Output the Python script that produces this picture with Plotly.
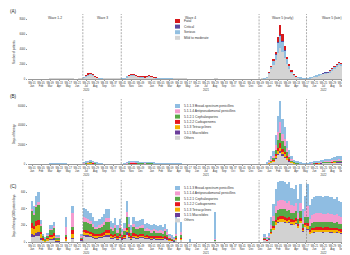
import plotly.graph_objects as go

# ---------------- categories (ISO weeks) ----------------
WEEKS = ([f"2020-W{w:02d}" for w in range(1, 54)] +
         [f"2021-W{w:02d}" for w in range(1, 53)] +
         [f"2022-W{w:02d}" for w in range(1, 36)])

TICK_WEEK_NUMS = {2020: [1, 5, 9, 13, 17, 21, 25, 29, 33, 37, 41, 45, 49],
                  2021: [1, 5, 9, 13, 17, 21, 25, 29, 33, 37, 41, 45, 49],
                  2022: [1, 5, 9, 13, 17, 21, 25, 29, 33]}
TICK_MONTHS = ["Jan", "Feb", "Mar", "Apr", "May", "Jun", "Jul", "Aug", "Sep", "Oct", "Nov", "Nov", "Dec",
               "Jan", "Feb", "Mar", "Apr", "May", "Jun", "Jul", "Aug", "Sep", "Oct", "Nov", "Dec", "Dec",
               "Jan", "Feb", "Mar", "Apr", "May", "Jun", "Jul", "Aug", "Sep"]
TICK_YEARS = ["", "", "", "", "", "", "2020", "", "", "", "", "", "",
              "", "", "", "", "", "", "2021", "", "", "", "", "", "",
              "", "", "", "", "", "", "2022", "", ""]

WAVE_LABELS = ["Wave 1-2", "Wave 3", "Wave 4", "Wave 5 (early)", "Wave 5 (late)"]
# first week of waves 3, 4, 5 (early), 5 (late)
WAVE_STARTS = ["2020-W24", "2020-W41", "2021-W49", "2022-W18"]

# ---------------- panel A: number of patients ----------------
A_MILD = ([0]*8 + [10, 20, 40, 60, 50, 30, 20, 10, 10, 10, 10, 0, 0, 10, 30]
          + [220, 360, 530, 590, 460, 280, 180, 75, 35, 20, 10, 10, 5, 5, 5, 10, 20, 40]
          + [75, 250, 440, 460, 470, 400, 320, 265, 240, 215, 280, 350, 300, 160, 120, 80, 50, 35]
          + [30, 25, 20, 20, 15, 15, 10, 10] + [5, 5] + [0]*12 + [5, 5] + [0]*19 + [5, 40]
          + [200, 700, 1300, 1900, 2500, 3500, 4200, 3600, 2800, 2000, 1350, 820, 460, 280, 200, 120, 80, 65]
          + [85, 125, 210, 295, 380, 465, 550, 680, 760, 800, 930, 1180, 1430, 1680, 1890, 1760, 1510, 1170])
A_SERIOUS = ([0]*23
             + [40, 70, 110, 120, 95, 55, 30, 12, 5] + [0]*8 + [5]
             + [12, 40, 70, 80, 85, 75, 60, 50, 45, 42, 55, 70, 60, 30, 22, 15, 8, 4] + [3, 3, 2, 2] + [0]*40 + [5]
             + [40, 170, 330, 550, 800, 1350, 1600, 1400, 1050, 700, 420, 230, 110, 55, 38, 22, 15, 12]
             + [12, 20, 32, 45, 58, 70, 82, 100, 115, 125, 140, 180, 220, 260, 290, 280, 240, 190])
A_CRITICAL = ([0]*23 + [0, 8, 12, 15, 10, 8, 4] + [0]*11
              + [0, 0, 8, 8, 10, 10, 8, 6, 6, 6, 6, 8, 8, 4] + [0]*49
              + [0, 10, 25, 40, 60, 80, 100, 90, 70, 50, 30, 15, 10, 5, 0, 0, 0, 0]
              + [0, 0, 0, 0, 0, 0, 0, 5, 8, 8, 10, 10, 12, 14, 15, 15, 12, 10])
A_FATAL = ([0]*23 + [0, 12, 18, 20, 15, 7, 3] + [0]*11
           + [0, 0, 12, 12, 15, 15, 12, 9, 9, 7, 9, 12, 12, 10, 5] + [0]*48
           + [0, 20, 45, 110, 240, 650, 1350, 910, 480, 250, 100, 35, 20, 15, 0, 0, 0, 0]
           + [0, 0, 0, 0, 0, 0, 0, 0, 0, 0, 15, 25, 35, 45, 60, 60, 50, 40])

# ---------------- panel B: days of therapy ----------------
B_BROAD = ([0]*8 + [100, 150, 250, 300, 250, 150, 100, 50] + [0]*7
           + [375, 625, 775, 825, 700, 500, 325, 175, 100] + [0]*9
           + [125, 375, 625, 725, 750, 650, 525, 450, 400, 375, 425, 500, 450, 275, 200, 125, 88, 62]
           + [100, 70, 60, 50, 40, 30, 25, 20] + [0]*37
           + [495, 1320, 2640, 4290, 9900, 16500, 21450, 15510, 12540, 7920, 4950, 2640, 1485, 990, 726, 495, 330, 264]
           + [336, 504, 756, 1008, 1260, 1470, 1680, 1890, 2100, 2184, 2310, 2730, 3024, 3276, 3444, 3360, 2730, 1680])
B_ANTIPSEUDO = ([0]*23
                + [150, 250, 310, 330, 280, 200, 130, 70, 40] + [0]*9
                + [50, 150, 250, 290, 300, 260, 210, 180, 160, 150, 170, 200, 180, 110, 80, 50, 35, 25] + [0]*45
                + [255, 680, 1360, 2210, 5100, 8500, 11050, 7990, 6460, 4080, 2550, 1360, 765, 510, 374, 255, 170, 136]
                + [96, 144, 216, 288, 360, 420, 480, 540, 600, 624, 660, 780, 864, 936, 984, 960, 780, 480])
B_CEPH = ([0]*8 + [60, 90, 150, 180, 150, 90, 60, 30] + [0]*7
          + [375, 625, 775, 825, 700, 500, 325, 175, 100] + [0]*9
          + [125, 375, 625, 725, 750, 650, 525, 450, 400, 375, 425, 500, 450, 275, 200, 125, 88, 62] + [0]*45
          + [240, 640, 1280, 2080, 4800, 8000, 10400, 7520, 6080, 3840, 2400, 1280, 720, 480, 352, 240, 160, 128]
          + [80, 120, 180, 240, 300, 350, 400, 450, 500, 520, 550, 650, 720, 780, 820, 800, 650, 400])
B_CARBA = ([0]*23
           + [90, 150, 186, 198, 168, 120, 78, 42, 24] + [0]*9
           + [30, 90, 150, 174, 180, 156, 126, 108, 96, 90, 102, 120, 108, 66, 48, 30, 21, 15] + [0]*45
           + [120, 320, 640, 1040, 2400, 4000, 5200, 3760, 3040, 1920, 1200, 640, 360, 240, 176, 120, 80, 64]
           + [40, 60, 90, 120, 150, 175, 200, 225, 250, 260, 275, 325, 360, 390, 410, 400, 325, 200])
B_TETRA = ([0]*23
           + [150, 250, 310, 330, 280, 200, 130, 70, 40] + [0]*9
           + [50, 150, 250, 290, 300, 260, 210, 180, 160, 150, 170, 200, 180, 110, 80, 50, 35, 25] + [0]*45
           + [75, 200, 400, 650, 1500, 2500, 3250, 2350, 1900, 1200, 750, 400, 225, 150, 110, 75, 50, 40]
           + [32, 48, 72, 96, 120, 140, 160, 180, 200, 208, 220, 260, 288, 312, 328, 320, 260, 160])
B_MACRO = ([0]*23
           + [60, 100, 124, 132, 112, 80, 52, 28, 16] + [0]*9
           + [20, 60, 100, 116, 120, 104, 84, 72, 64, 60, 68, 80, 72, 44, 32, 20, 14, 10] + [0]*45
           + [30, 80, 160, 260, 600, 1000, 1300, 940, 760, 480, 300, 160, 90, 60, 44, 30, 20, 16]
           + [16, 24, 36, 48, 60, 70, 80, 90, 100, 104, 110, 130, 144, 156, 164, 160, 130, 80])
B_OTHERS = ([0]*8 + [80, 120, 200, 250, 200, 120, 80, 40] + [0]*7
            + [300, 500, 620, 660, 560, 400, 260, 140, 80] + [0]*9
            + [100, 300, 500, 580, 600, 520, 420, 360, 320, 300, 340, 400, 360, 220, 160, 100, 70, 50]
            + [100, 80, 60, 50, 40, 30, 25, 20] + [0]*37
            + [285, 760, 1520, 2470, 5700, 9500, 12350, 8930, 7220, 4560, 2850, 1520, 855, 570, 418, 285, 190, 152]
            + [200, 300, 450, 600, 750, 875, 1000, 1125, 1250, 1300, 1375, 1625, 1800, 1950, 2050, 2000, 1625, 1000])

# ---------------- panel C: days of therapy / 1000 patient days ----------------
C_BROAD = ([100, 88, 112, 120, 54, 20, 10, 22, 40, 40, 48, 16, 16, 0, 0, 120, 0, 0, 80, 0, 0, 0, 30]
           + [115, 112, 106, 98, 84, 73, 73, 78, 84, 95, 112, 112, 73, 64, 81, 56, 78, 45]
           + [64, 140, 84, 56, 84, 73, 70, 76, 78, 62, 64, 59, 56, 59, 56, 53, 56, 50, 59, 45, 28, 22, 17, 200, 0, 120]
           + [0, 0, 0, 35] + [0]*10 + [320] + [0]*21
           + [29, 19, 35, 96, 147, 205, 230, 238, 237, 234, 224, 230, 208, 205, 221, 166, 224, 128, 176]
           + [266, 171, 198, 205, 213, 213, 213, 205, 209, 213, 205, 205, 198, 205, 190, 182, 160, 114])
C_ANTIPSEUDO = ([25, 22, 28, 30, 14, 5, 3, 6, 10, 10, 12, 4, 4, 0, 0, 90, 0, 0, 170, 0, 0, 0, 10]
                + [49, 48, 46, 42, 36, 31, 31, 34, 36, 41, 48, 48, 31, 28, 35, 24, 34, 19]
                + [28, 60, 36, 24, 36, 31, 30, 32, 34, 26, 28, 25, 24, 25, 24, 23, 24, 22, 25, 19, 12, 10, 7, 20, 0, 30]
                + [0]*14 + [10] + [0]*21
                + [13, 8, 15, 42, 64, 90, 101, 104, 104, 102, 98, 101, 91, 90, 97, 73, 98, 56, 77]
                + [126, 81, 94, 97, 101, 101, 101, 97, 99, 101, 97, 97, 94, 97, 90, 86, 76, 54])
C_CEPH = ([150, 132, 168, 180, 81, 30, 15, 33, 60, 60, 72, 24, 24, 0, 0, 30, 0, 0, 40, 0, 0, 0, 20]
          + [103, 100, 95, 88, 75, 65, 65, 70, 75, 85, 100, 100, 65, 58, 73, 50, 70, 40]
          + [58, 125, 75, 50, 75, 65, 63, 68, 70, 55, 58, 53, 50, 53, 50, 48, 50, 45, 53, 40, 25, 20, 15, 30, 0, 40]
          + [0]*14 + [10] + [0]*21
          + [11, 7, 13, 36, 55, 77, 86, 89, 89, 88, 84, 86, 78, 77, 83, 62, 84, 48, 66]
          + [84, 54, 62, 65, 67, 67, 67, 65, 66, 67, 65, 65, 62, 65, 60, 58, 50, 36])
C_CARBA = ([50, 44, 56, 60, 27, 10, 5, 11, 20, 20, 24, 8, 8, 0, 0, 20, 0, 0, 40, 0, 0, 0, 10]
           + [29, 28, 27, 25, 21, 18, 18, 20, 21, 24, 28, 28, 18, 16, 20, 14, 20, 11]
           + [16, 35, 21, 14, 21, 18, 18, 19, 20, 15, 16, 15, 14, 15, 14, 13, 14, 13, 15, 11, 7, 6, 4, 10, 0, 10]
           + [0]*36
           + [5, 3, 6, 15, 23, 32, 36, 37, 37, 37, 35, 36, 33, 32, 35, 26, 35, 20, 28]
           + [35, 23, 26, 27, 28, 28, 28, 27, 28, 28, 27, 27, 26, 27, 25, 24, 21, 15])
C_TETRA = ([75, 66, 84, 90, 40, 15, 8, 16, 30, 30, 36, 12, 12, 0, 0, 20, 0, 0, 50, 0, 0, 0, 5]
           + [21, 20, 19, 18, 15, 13, 13, 14, 15, 17, 20, 20, 13, 12, 15, 10, 14, 8]
           + [12, 25, 15, 10, 15, 13, 13, 14, 14, 11, 12, 11, 10, 11, 10, 10, 10, 9, 11, 8, 5, 4, 3, 10, 0, 10]
           + [0]*36
           + [3, 2, 3, 9, 14, 19, 22, 22, 22, 22, 21, 22, 20, 19, 21, 16, 21, 12, 17]
           + [28, 18, 21, 22, 22, 22, 22, 22, 22, 22, 22, 22, 21, 22, 20, 19, 17, 12])
C_MACRO = ([35, 31, 39, 42, 19, 7, 3, 8, 14, 14, 17, 6, 6, 0, 0, 0, 0, 0, 10, 0, 0, 0, 5]
           + [21, 20, 19, 18, 15, 13, 13, 14, 15, 17, 20, 20, 13, 12, 15, 10, 14, 8]
           + [12, 25, 15, 10, 15, 13, 13, 14, 14, 11, 12, 11, 10, 11, 10, 10, 10, 9, 11, 8, 5, 4, 3, 0, 0, 0]
           + [0]*36
           + [1, 1, 1, 3, 5, 6, 7, 7, 7, 7, 7, 7, 7, 6, 7, 5, 7, 4, 6]
           + [7, 5, 5, 5, 6, 6, 6, 5, 6, 6, 5, 5, 5, 5, 5, 5, 4, 3])
C_OTHERS = ([65, 57, 73, 78, 35, 13, 6, 14, 26, 26, 31, 10, 10, 0, 0, 20, 0, 0, 40, 0, 0, 0, 20]
            + [74, 72, 68, 63, 54, 47, 47, 50, 54, 61, 72, 72, 47, 41, 52, 36, 50, 29]
            + [41, 90, 54, 36, 54, 47, 45, 49, 50, 40, 41, 38, 36, 38, 36, 34, 36, 32, 38, 29, 18, 14, 11, 30, 0, 30]
            + [0, 0, 0, 5] + [0]*10 + [20] + [0]*21
            + [30, 20, 36, 99, 152, 211, 238, 246, 244, 241, 231, 238, 215, 211, 228, 172, 231, 132, 182]
            + [154, 99, 114, 119, 123, 123, 123, 119, 121, 123, 119, 119, 114, 119, 110, 106, 92, 66])

for arr in [A_MILD, A_SERIOUS, A_CRITICAL, A_FATAL, B_BROAD, B_ANTIPSEUDO, B_CEPH, B_CARBA, B_TETRA,
            B_MACRO, B_OTHERS, C_BROAD, C_ANTIPSEUDO, C_CEPH, C_CARBA, C_TETRA, C_MACRO, C_OTHERS]:
    assert len(arr) == len(WEEKS), len(arr)

SEVERITY_NAMES = ["Mild to moderate", "Serious", "Critical", "Fatal"]
DRUG_NAMES = ["Others", "5.1.5 Macrolides", "5.1.3 Tetracyclines", "5.1.2.2 Carbapenems",
              "5.1.2.1 Cephalosporins", "5.1.1.4 Antipseudomonal penicillins",
              "5.1.1.3 Broad-spectrum penicillins"]

# ---------------- styles ----------------
SEV_COLORS = ["#d4d4d4", "#92bfe0", "#5b4a9e", "#d7191c"]
DRUG_COLORS = ["#d2d2d2", "#6a3d9a", "#f2b200", "#e6161d", "#56a846", "#f49bcf", "#8fbde2"]
FONT = "Liberation Sans, Arial, sans-serif"
W, H = 350, 255

X = list(range(len(WEEKS)))
tick_pos, tick_text = [], []
k = 0
for yr, nums in TICK_WEEK_NUMS.items():
    for n in nums:
        tick_pos.append(WEEKS.index(f"{yr}-W{n:02d}"))
        t = f"Wk {n:02d}<br>{TICK_MONTHS[k]}"
        if TICK_YEARS[k]:
            t += f"<br>{TICK_YEARS[k]}"
        tick_text.append(t)
        k += 1

dividers = [WEEKS.index(w) - 0.5 for w in WAVE_STARTS]
x_lo, x_hi = -1.77, 143.4
bounds = [x_lo] + dividers + [x_hi]

fig = go.Figure()
panels = [
    ("x", "y", [A_MILD, A_SERIOUS, A_CRITICAL, A_FATAL], SEV_COLORS),
    ("x2", "y2", [B_OTHERS, B_MACRO, B_TETRA, B_CARBA, B_CEPH, B_ANTIPSEUDO, B_BROAD], DRUG_COLORS),
    ("x3", "y3", [C_OTHERS, C_MACRO, C_TETRA, C_CARBA, C_CEPH, C_ANTIPSEUDO, C_BROAD], DRUG_COLORS),
]
for xa, ya, series, cols in panels:
    for s, c in zip(series, cols):
        fig.add_trace(go.Bar(x=X, y=s, marker=dict(color=c, line=dict(width=0)),
                             xaxis=xa, yaxis=ya, showlegend=False, hoverinfo="skip"))

xdom = [20 / W, 348 / W]
ydoms = [[1 - 71 / H, 1 - 6 / H], [1 - 156 / H, 1 - 91 / H], [1 - 234 / H, 1 - 172 / H]]
yranges = [[0, 8667], [0, 67241], [0, 750]]
ytickvals = [[0, 2000, 4000, 6000, 8000], [0, 20000, 40000, 60000], [0, 200, 400, 600]]

layout = dict(width=W, height=H, margin=dict(l=0, r=0, t=0, b=0, autoexpand=False),
              paper_bgcolor="white", plot_bgcolor="white", barmode="stack", bargap=0.22,
              font=dict(family=FONT, color="#333"), showlegend=False)
for i in range(3):
    sx = "" if i == 0 else str(i + 1)
    layout["xaxis" + sx] = dict(domain=xdom, range=[x_lo, x_hi], anchor="y" + sx, automargin=False,
                                tickmode="array", tickvals=tick_pos, ticktext=tick_text, tickangle=0,
                                tickfont=dict(size=2.6, color="#333", family=FONT),
                                ticks="outside", ticklen=1.0, tickwidth=0.4, tickcolor="#999",
                                showline=True, linecolor="#999", linewidth=0.5,
                                showgrid=False, zeroline=False)
    layout["yaxis" + sx] = dict(domain=ydoms[i], range=yranges[i], anchor="x" + sx, automargin=False,
                                tickmode="array", tickvals=ytickvals[i], tickformat="d",
                                tickfont=dict(size=2.6, color="#333", family=FONT),
                                ticks="outside", ticklen=1.2, tickwidth=0.4, tickcolor="#999",
                                showline=False, showgrid=False, zeroline=False)
fig.update_layout(**layout)

shapes, annots = [], []
for i in range(3):
    sx = "" if i == 0 else str(i + 1)
    for d in dividers:
        shapes.append(dict(type="line", xref="x" + sx, yref=f"y{sx} domain", x0=d, x1=d, y0=0, y1=1,
                           line=dict(color="#777", width=0.6, dash="2px,1.2px")))

# wave labels
for j, lab in enumerate(WAVE_LABELS):
    annots.append(dict(text=lab, xref="x", yref="y domain", x=(bounds[j] + bounds[j + 1]) / 2, y=0.94,
                       showarrow=False, font=dict(size=3.3, family=FONT, color="#333"),
                       xanchor="center", yanchor="middle"))

# panel labels
for lab, ypx in [("(A)", 3.5), ("(B)", 88.5), ("(C)", 178)]:
    annots.append(dict(text=lab, xref="paper", yref="paper", x=0.2 / W, y=1 - ypx / H, showarrow=False,
                       font=dict(size=4.6, family=FONT, color="#222"), xanchor="left", yanchor="middle"))

# axis titles
for lab, ypx in [("Number of patients", 44), ("Days of therapy", 126),
                 ("Days of therapy/1000 patient days", 208)]:
    annots.append(dict(text=lab, xref="paper", yref="paper", x=6 / W, y=1 - ypx / H, showarrow=False,
                       textangle=-90, font=dict(size=2.8, family=FONT, color="#333"),
                       xanchor="center", yanchor="middle"))
annots.append(dict(text="Inpatient admission date", xref="paper", yref="paper", x=177 / W, y=1 - 247.5 / H,
                   showarrow=False, font=dict(size=2.8, family=FONT, color="#333"),
                   xanchor="center", yanchor="top", borderpad=0))

# manual legends
legends = [
    (list(reversed(SEVERITY_NAMES)), list(reversed(SEV_COLORS)), 13.0, 5.6),
    (list(reversed(DRUG_NAMES)), list(reversed(DRUG_COLORS)), 98.0, 5.3),
    (list(reversed(DRUG_NAMES)), list(reversed(DRUG_COLORS)), 180.0, 5.4),
]
for names, cols, y0, dy in legends:
    for j, (nm, c) in enumerate(zip(names, cols)):
        yc = y0 + j * dy
        shapes.append(dict(type="rect", xref="paper", yref="paper", x0=167 / W, x1=172 / W,
                           y0=1 - (yc + 2) / H, y1=1 - (yc - 2) / H, fillcolor=c, line=dict(width=0)))
        annots.append(dict(text=nm, xref="paper", yref="paper", x=174 / W, y=1 - yc / H, showarrow=False,
                           font=dict(size=3.3, family=FONT, color="#333"), xanchor="left", yanchor="middle"))

fig.update_layout(shapes=shapes, annotations=annots)
fig.write_html("out.html")
